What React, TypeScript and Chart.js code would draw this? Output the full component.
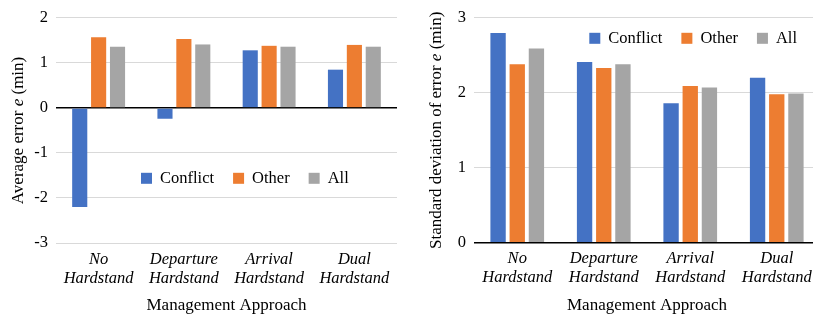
import React, { useEffect, useRef } from "react";
import { Chart, registerables } from "chart.js";

Chart.register(...registerables);

const categories: string[][] = [
  ["No", "Hardstand"],
  ["Departure", "Hardstand"],
  ["Arrival", "Hardstand"],
  ["Dual", "Hardstand"],
];
const seriesNames = ["Conflict", "Other", "All"];
const seriesColors = ["#4472C4", "#ED7D31", "#A5A5A5"];

const avgConflict = [-2.2, -0.24, 1.28, 0.85];
const avgOther = [1.57, 1.53, 1.38, 1.4];
const avgAll = [1.36, 1.41, 1.36, 1.36];

const sdConflict = [2.8, 2.41, 1.86, 2.2];
const sdOther = [2.38, 2.33, 2.09, 1.98];
const sdAll = [2.59, 2.38, 2.07, 1.99];

const xTitle = "Management Approach";
const avgTitle = [
  { text: "Average error ", italic: false },
  { text: "e", italic: true },
  { text: " (min)", italic: false },
];
const sdTitle = [
  { text: "Standard deviation of error ", italic: false },
  { text: "e", italic: true },
  { text: " (min)", italic: false },
];

const FAMILY = "'Liberation Serif', 'Times New Roman', serif";
const TICK_SIZE = 16.5;
const TITLE_SIZE = 17;

type Seg = { text: string; italic: boolean };

function makeDeco(cfg: {
  titleX: number;
  segs: Seg[];
  legendX: number;
  legendY: number;
}) {
  return {
    id: "panelDeco",
    afterDraw(chart: any) {
      const ctx: CanvasRenderingContext2D = chart.ctx;
      const area = chart.chartArea;
      // rotated y-axis title with italic segment
      ctx.save();
      ctx.fillStyle = "#000";
      ctx.translate(cfg.titleX, (area.top + area.bottom) / 2);
      ctx.rotate(-Math.PI / 2);
      ctx.textBaseline = "alphabetic";
      ctx.textAlign = "left";
      const fontFor = (s: Seg) =>
        `${s.italic ? "italic " : ""}${TITLE_SIZE}px ${FAMILY}`;
      let total = 0;
      const widths = cfg.segs.map((s) => {
        ctx.font = fontFor(s);
        const w = ctx.measureText(s.text).width;
        total += w;
        return w;
      });
      let x = -total / 2;
      cfg.segs.forEach((s, i) => {
        ctx.font = fontFor(s);
        ctx.fillText(s.text, x, 0);
        x += widths[i];
      });
      ctx.restore();

      // legend inside plot
      ctx.save();
      ctx.font = `${TICK_SIZE}px ${FAMILY}`;
      ctx.textBaseline = "middle";
      ctx.textAlign = "left";
      let lx = cfg.legendX;
      const box = 11;
      chart.data.datasets.forEach((ds: any) => {
        ctx.fillStyle = ds.backgroundColor;
        ctx.fillRect(lx, cfg.legendY - box / 2, box, box);
        ctx.fillStyle = "#000";
        const tx = lx + box + 8;
        ctx.fillText(ds.label, tx, cfg.legendY + 0.5);
        lx = tx + ctx.measureText(ds.label).width + 19;
      });
      ctx.restore();
    },
  };
}

type PanelProps = {
  values: number[][];
  yMin: number;
  yMax: number;
  width: number;
  height: number;
  padRight: number;
  yAxisWidth: number;
  xAxisHeight: number;
  titleSegs: Seg[];
  titleX: number;
  legendX: number;
  legendY: number;
  left: number;
};

function Panel(p: PanelProps) {
  const ref = useRef<HTMLCanvasElement | null>(null);
  useEffect(() => {
    if (!ref.current) return;
    const chart = new Chart(ref.current, {
      type: "bar",
      data: {
        labels: categories,
        datasets: p.values.map((v, i) => ({
          label: seriesNames[i],
          data: v,
          backgroundColor: seriesColors[i],
          borderWidth: 0,
          categoryPercentage: 0.665,
          barPercentage: 0.8,
        })),
      },
      options: {
        responsive: false,
        animation: false,
        layout: { padding: { left: 0, top: 16, right: p.padRight, bottom: 0 } },
        plugins: { legend: { display: false }, tooltip: { enabled: false } },
        scales: {
          x: {
            grid: { display: false, drawTicks: false },
            border: { display: false },
            ticks: {
              font: { family: FAMILY, size: TICK_SIZE, style: "italic", lineHeight: 1.145 },
              color: "#000",
              padding: 7,
              autoSkip: false,
              maxRotation: 0,
              minRotation: 0,
            },
            title: {
              display: true,
              text: xTitle,
              font: { family: FAMILY, size: TITLE_SIZE, lineHeight: 1 },
              color: "#000",
              padding: 0,
            },
            afterFit: (s: any) => {
              s.height = p.xAxisHeight;
            },
          },
          y: {
            min: p.yMin,
            max: p.yMax,
            ticks: {
              stepSize: 1,
              font: { family: FAMILY, size: TICK_SIZE },
              color: "#000",
              padding: 8,
            },
            grid: {
              color: (c: any) => (c.tick && c.tick.value === 0 ? "#000" : "#D9D9D9"),
              lineWidth: (c: any) => (c.tick && c.tick.value === 0 ? 1.6 : 1),
              drawTicks: false,
            },
            border: { display: false },
            afterFit: (s: any) => {
              s.width = p.yAxisWidth;
            },
          },
        },
      } as any,
      plugins: [
        makeDeco({
          titleX: p.titleX,
          segs: p.titleSegs,
          legendX: p.legendX,
          legendY: p.legendY,
        }) as any,
      ],
    });
    return () => chart.destroy();
  }, []);
  return (
    <canvas
      ref={ref}
      width={p.width}
      height={p.height}
      style={{ position: "absolute", left: p.left, top: 0, width: p.width, height: p.height }}
    />
  );
}

export default function App() {
  return (
    <div
      style={{
        position: "absolute",
        left: 0,
        top: 0,
        width: 813,
        height: 314,
        overflow: "hidden",
        background: "#fff",
      }}
    >
      <Panel
        values={[avgConflict, avgOther, avgAll]}
        yMin={-3}
        yMax={2}
        width={410}
        height={314}
        padRight={13}
        yAxisWidth={56}
        xAxisHeight={71}
        titleSegs={avgTitle}
        titleX={23}
        legendX={141}
        legendY={178.3}
        left={0}
      />
      <Panel
        values={[sdConflict, sdOther, sdAll]}
        yMin={0}
        yMax={3}
        width={420}
        height={314}
        padRight={10}
        yAxisWidth={64}
        xAxisHeight={71.3}
        titleSegs={sdTitle}
        titleX={31}
        legendX={179.3}
        legendY={38.3}
        left={410}
      />
    </div>
  );
}
